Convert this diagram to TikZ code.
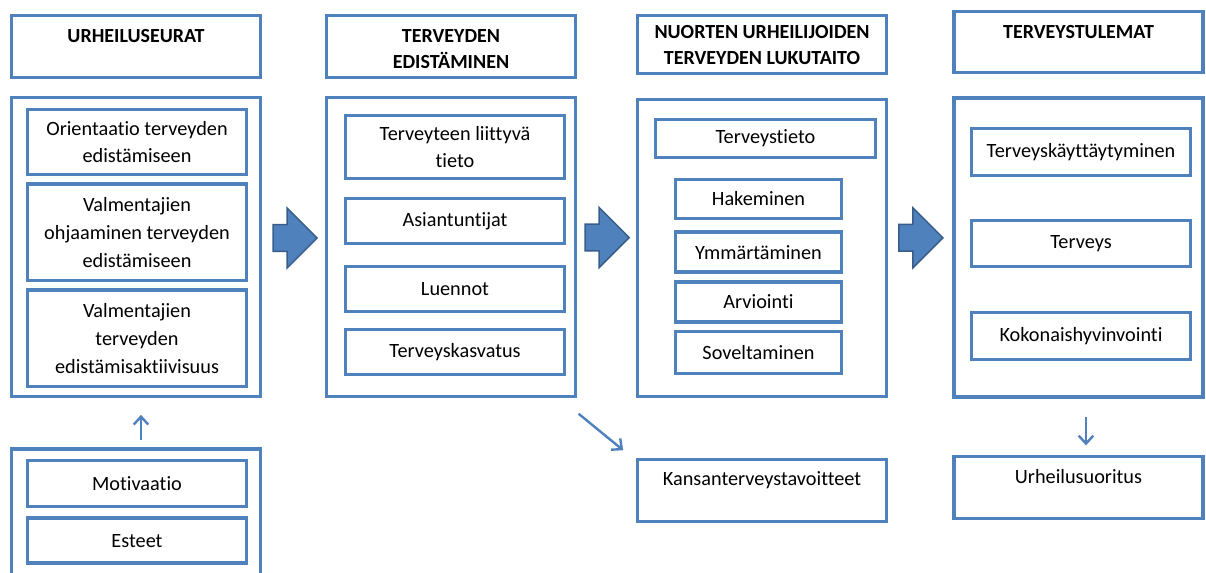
\documentclass[tikz,border=0pt]{standalone}
\usepackage{fontspec}
\setmainfont{Carlito}[Ligatures=NoCommon]
\usetikzlibrary{arrows.meta,shapes.arrows,positioning,calc}
\definecolor{boxblue}{HTML}{4F81BD}
\definecolor{arrowrim}{HTML}{385D8A}

\begin{document}
\begin{tikzpicture}[x=0.75pt,y=-0.75pt,
    font=\fontsize{15.2}{20.8}\selectfont,
    every node/.style={align=center},
    frame/.style={rectangle,draw=boxblue,line width=2.7pt,minimum width=186.75pt},
    header/.style={frame,minimum height=46.5pt},
    group/.style={frame,minimum height=224.25pt},
    item/.style={rectangle,draw=boxblue,line width=2.7pt,inner sep=2pt,minimum width=#1},
    item/.default=164.25pt,
    toptext/.style={label={[anchor=north,yshift=-7.2pt]north:#1}},
    headtext/.style={label={[anchor=north,yshift=-8pt,
        font=\fontsize{15}{19.5}\selectfont\bfseries]north:#1}},
    blockarrow/.style={single arrow,draw=arrowrim,fill=boxblue,line width=1.1pt,
        minimum height=33pt,inner xsep=0pt,inner ysep=9.5pt,single arrow head extend=12.5pt},
    link/.style={draw=boxblue,line width=1.8pt,-{Straight Barb[length=6pt,width=11pt]}}
  ]
  \clip (0,0) rectangle (1206,572);
  \useasboundingbox (0,0) rectangle (1206,572);

  % urheiluseurat
  \node[header,headtext=URHEILUSEURAT] (seurat) at (136,46.5) {};
  \node[group] (seuraryhma) at (136,247) {};
  \node[item,minimum height=48.75pt] (orientaatio) at (137,142) {Orientaatio terveyden\\edistämiseen};
  \node[item,minimum height=72.3pt,below=4.5pt of orientaatio] (ohjaaminen) {Valmentajien\\ohjaaminen terveyden\\edistämiseen};
  \node[item,minimum height=72.3pt,below=4.5pt of ohjaaminen] (aktiivisuus) {Valmentajien\\terveyden\\edistämisaktiivisuus};
  \node[frame,minimum height=105pt] (tekijat) at (136,519) {};
  \node[item,minimum height=34.5pt] (motivaatio) at (137,483.5) {Motivaatio};
  \node[item,minimum height=33.75pt,below=6pt of motivaatio] (esteet) {Esteet};

  % terveyden edistaminen
  \node[header,headtext={TERVEYDEN\\EDISTÄMINEN}] (edistaminen) at (451,46.5) {};
  \node[group] (edistamisryhma) at (451,247) {};
  \node[item,minimum height=47.25pt] (tieto) at (455,147) {Terveyteen liittyvä\\tieto};
  \node[item,minimum height=33.75pt] (asiantuntijat) at (455,221) {Asiantuntijat};
  \node[item,minimum height=33.75pt] (luennot) at (455,289) {Luennot};
  \node[item,minimum height=33.75pt] (kasvatus) at (455,352) {Terveyskasvatus};

  % lukutaito
  \node[header,minimum height=43.5pt,label={[anchor=north,yshift=-5.6pt,
      font=\fontsize{15}{19.5}\selectfont\bfseries]north:NUORTEN URHEILIJOIDEN\\TERVEYDEN LUKUTAITO}] (lukutaito) at (762,44.5) {};
  \node[group,minimum height=222.75pt] (lukutaitoryhma) at (762,248) {};
  \node[item=165pt,minimum height=28.5pt] (terveystieto) at (765.5,138.5) {Terveystieto};
  \node[item=124.5pt,minimum height=29.25pt] (hakeminen) at (758.5,199) {Hakeminen};
  \node[item=124.5pt,minimum height=30pt,below=7.5pt of hakeminen] (ymmartaminen) {Ymmärtäminen};
  \node[item=124.5pt,minimum height=30pt,below=4.5pt of ymmartaminen] (arviointi) {Arviointi};
  \node[item=124.5pt,minimum height=31.5pt,below=4.5pt of arviointi] (soveltaminen) {Soveltaminen};
  \node[frame,minimum height=46.5pt,toptext=Kansanterveystavoitteet] (tavoitteet) at (762,490.5) {};

  % terveystulemat
  \node[header,minimum height=45.75pt,headtext=TERVEYSTULEMAT] (tulemat) at (1078.5,42) {};
  \node[group] (tulemaryhma) at (1078.5,247.5) {};
  \node[item,minimum height=35.25pt] (kayttaytyminen) at (1081,152) {Terveyskäyttäytyminen};
  \node[item,minimum height=34.5pt] (terveys) at (1081,243.5) {Terveys};
  \node[item,minimum height=35.25pt] (hyvinvointi) at (1081,336) {Kokonaishyvinvointi};
  \node[frame,minimum height=46.5pt,toptext=Urheilusuoritus] (suoritus) at (1078.5,487.5) {};

  % nuolet
  \node[blockarrow] (nuoli1) at ($(seuraryhma.east)!0.5!(edistamisryhma.west)+(-5,-9)$) {};
  \node[blockarrow] (nuoli2) at ($(edistamisryhma.east)!0.5!(lukutaitoryhma.west)+(-6,-10)$) {};
  \node[blockarrow] (nuoli3) at ($(lukutaitoryhma.east)!0.5!(tulemaryhma.west)+(-6,-10)$) {};

  \draw[link] ([xshift=3.75pt,yshift=5.25pt]tekijat.north) -- ([xshift=3.75pt,yshift=-12.4pt]seuraryhma.south);
  \draw[link] ([xshift=1pt,yshift=-11.6pt]edistamisryhma.south east) -- ([xshift=-9.4pt,yshift=5.6pt]tavoitteet.north west);
  \draw[link] ([xshift=5.6pt,yshift=-13.5pt]tulemaryhma.south) -- ([xshift=5.6pt,yshift=7pt]suoritus.north);
\end{tikzpicture}
\end{document}
